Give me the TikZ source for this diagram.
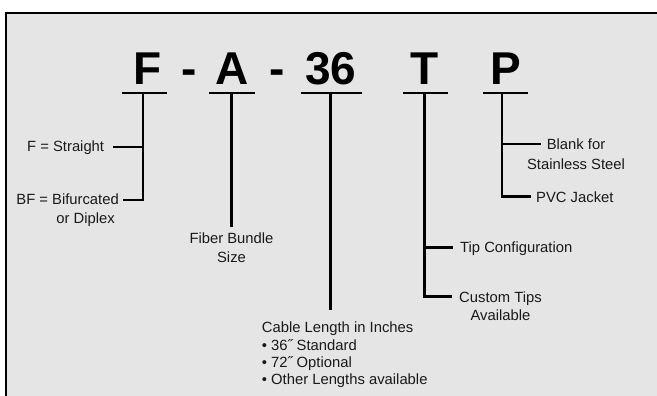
\documentclass[tikz,border=0pt]{standalone}
\usepackage{fontspec}
\setmainfont{Liberation Sans}
\usetikzlibrary{calc}
\begin{document}
\begin{tikzpicture}[x=1pt,y=-1pt,
  big/.style={font=\bfseries\fontsize{46}{46}\selectfont, inner sep=0pt, anchor=base},
  lbl/.style={font=\fontsize{14.8}{18}\selectfont, inner sep=0pt, text=black!90},
  ul/.style={line width=2.7pt},
  conn/.style={line width=2.7pt, line join=miter}]
\useasboundingbox (0,0) rectangle (657,396);
\fill[white] (0,0) rectangle (657,396);
\begin{scope}
\clip (0,0) rectangle (657,396);
\draw[line width=2.4pt, fill=gray!20] (6,13) rectangle (680,420);
\end{scope}
% code letters
\node[big] (lF) at (147.5,85) {F};
\node[big] (d1) at (189,85) {-};
\node[big] (lA) at (232.5,85) {A};
\node[big] (d2) at (277.5,85) {-};
\node[big] (l36) at (331,85) {36};
\node[big] (lT) at (424.5,85) {T};
\node[big] (lP) at (505.5,85) {P};
% underlines
\draw[ul] (121.7,93) -- (166.7,93);
\draw[ul] (209,93) -- (255,93);
\draw[ul] (300.7,93) -- (361.7,93);
\draw[ul] (403,93) -- (447.7,93);
\draw[ul] (483,93) -- (527.7,93);
% junctions
\coordinate (uF) at (143,93);
\coordinate (jF1) at (143,147);
\coordinate (jF2) at (143,200);
\coordinate (uA) at (231.7,93);
\coordinate (u36) at (330.7,93);
\coordinate (uT) at (424.3,93);
\coordinate (jT1) at (424.3,247.3);
\coordinate (jT2) at (424.3,296.5);
\coordinate (uP) at (502,93);
\coordinate (jP1) at (502,144);
\coordinate (jP2) at (502,196.7);
% labels
\node[lbl, anchor=base east, inner xsep=8.4pt] (fs) at (112.7,152) {F = Straight};
\node[lbl, font=\fontsize{14.8}{19}\selectfont, align=right, anchor=north east, inner xsep=3.7pt] (bf) at (122.7,193.5) {BF = Bifurcated\\or Diplex\kern4pt};
\node[lbl, font=\fontsize{14.8}{19}\selectfont, align=center, anchor=north, inner ysep=6pt] (fb) at (231.5,226.7) {Fiber Bundle\\Size};
\node[lbl, font=\fontsize{14.8}{17.1}\selectfont, align=left, anchor=north west, inner ysep=12pt] (cable) at (261.7,310) {Cable Length in Inches\\• 36˝ Standard\\• 72˝ Optional\\• Other Lengths available};
\node[lbl, anchor=base west, inner xsep=7pt] (tip) at (453,252.3) {Tip Configuration};
\node[lbl, align=center, anchor=north west, inner xsep=7.3pt] (custom) at (451.7,291.2) {Custom Tips\\Available};
\node[lbl, font=\fontsize{14.8}{20}\selectfont, align=center, anchor=north] (blank) at (576,138.7) {Blank for\\Stainless Steel};
\node[lbl, anchor=base west, inner xsep=5.3pt] (pvc) at (530.7,202) {PVC Jacket};
% connectors
\draw[conn] (uF) -- (jF2) -- (jF2 -| bf.east);
\draw[conn] (jF1) -- (jF1 -| fs.east);
\draw[conn] (uA) -- (uA |- fb.north);
\draw[conn] (u36) -- (u36 |- cable.north);
\draw[conn] (uT) -- (jT2) -- (jT2 -| custom.west);
\draw[conn] (jT1) -- (jT1 -| tip.west);
\draw[conn] (uP) -- (jP2) -- (jP2 -| pvc.west);
\draw[conn] (jP1) -- ($(jP1 -| blank.west)+(13.7,0)$);
\end{tikzpicture}
\end{document}
